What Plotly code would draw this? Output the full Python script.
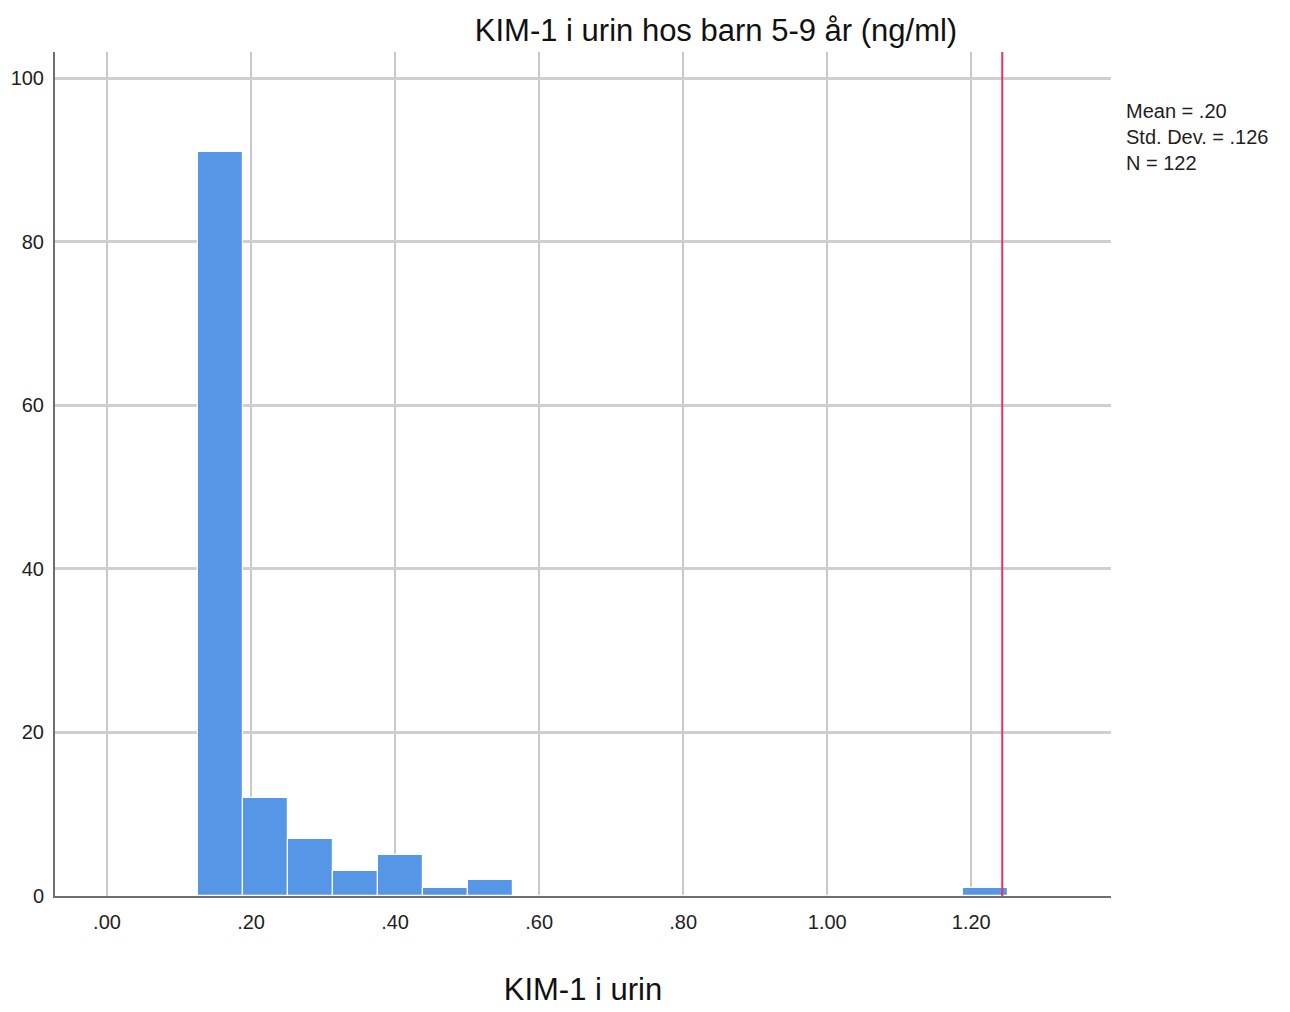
import plotly.graph_objects as go

# Histogram of urinary KIM-1 (ng/ml), children aged 5-9
bin_start = 0.1265
bin_width = 0.0625
counts = [91, 12, 7, 3, 5, 1, 2, 0, 0, 0, 0, 0, 0, 0, 0, 0, 0, 1]
ref_line_x = 1.243

x_tick_vals = [0.0, 0.2, 0.4, 0.6, 0.8, 1.0, 1.2]
x_tick_text = [".00", ".20", ".40", ".60", ".80", "1.00", "1.20"]
y_tick_vals = [0, 20, 40, 60, 80, 100]

stats_lines = ["Mean = .20", "Std. Dev. = .126", "N = 122"]

centers = [bin_start + bin_width * (i + 0.5) for i in range(len(counts))]

FONT = "Liberation Sans Narrow, Arial Narrow, Liberation Sans, Arial, sans-serif"

fig = go.Figure()
fig.add_trace(go.Bar(
    x=centers,
    y=counts,
    width=bin_width,
    marker=dict(color="#5596E6", line=dict(color="#FFFFFF", width=1.2)),
    showlegend=False,
    hoverinfo="x+y",
))

fig.add_vline(x=ref_line_x, line=dict(color="#E8335E", width=2))

fig.add_annotation(
    x=1.0, y=0.945, xref="paper", yref="paper",
    xanchor="left", yanchor="top", xshift=13,
    text="<br>".join(stats_lines), showarrow=False, align="left",
    font=dict(family=FONT, size=20, color="#1E1E1E"),
)

fig.update_layout(
    width=1290, height=1012,
    margin=dict(l=55, r=179, t=52, b=116),
    paper_bgcolor="white", plot_bgcolor="white",
    bargap=0,
    title=dict(
        text="KIM-1 i urin hos barn 5-9 år (ng/ml)",
        x=716 / 1290, xanchor="center", y=1 - 30 / 1012, yanchor="middle",
        font=dict(family=FONT, size=31, color="#111111"),
    ),
    font=dict(family=FONT, size=20, color="#222222"),
)

fig.update_xaxes(
    range=[-0.0722, 1.394],
    tickvals=x_tick_vals, ticktext=x_tick_text,
    showgrid=True, gridcolor="#C8C8C8", gridwidth=1.5,
    showline=True, linecolor="#6E6E6E", linewidth=2,
    zeroline=False, ticks="", ticklen=0, ticklabelstandoff=7,
    tickfont=dict(family=FONT, size=20, color="#1E1E1E"),
    title=dict(text="KIM-1 i urin", standoff=46,
               font=dict(family=FONT, size=31, color="#111111")),
)
fig.update_yaxes(
    range=[0, 103.2],
    tickvals=y_tick_vals,
    showgrid=True, gridcolor="#CFCFCF", gridwidth=3,
    showline=True, linecolor="#6E6E6E", linewidth=2,
    zeroline=False, ticks="", ticklen=0, ticklabelstandoff=5,
    tickfont=dict(family=FONT, size=20, color="#1E1E1E"),
)

fig.write_html("out.html")
